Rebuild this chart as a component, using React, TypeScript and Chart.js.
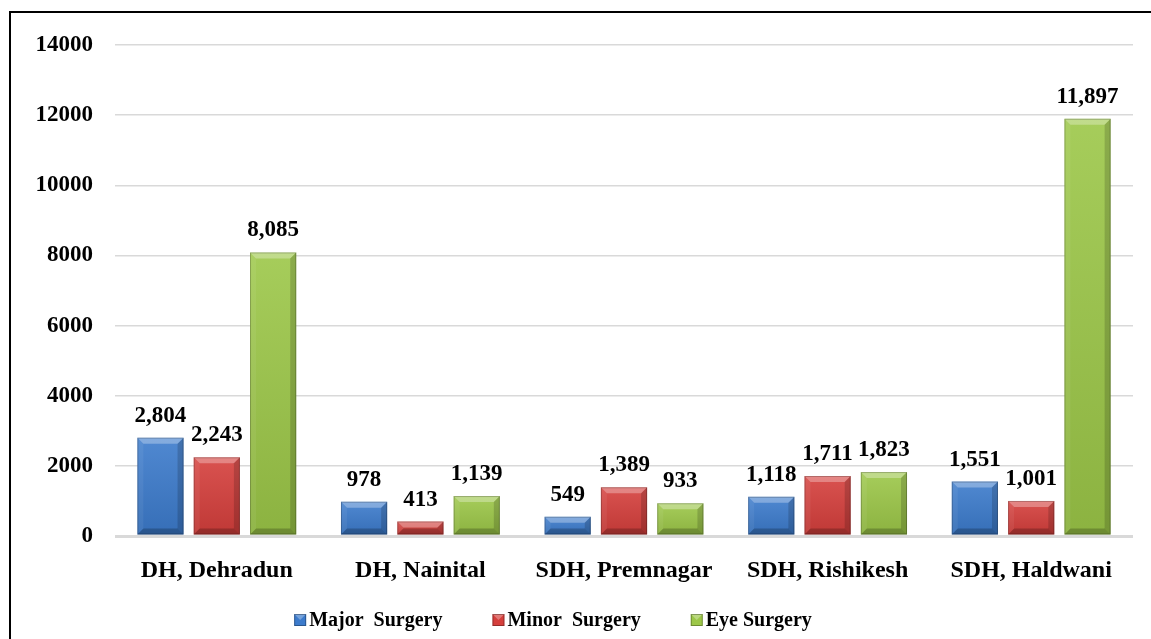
import React, { useEffect, useRef } from "react";
import { Chart, registerables } from "chart.js";

Chart.register(...registerables);

const categories = ["DH, Dehradun", "DH, Nainital", "SDH, Premnagar", "SDH, Rishikesh", "SDH, Haldwani"];
const majorSurgery = [2804, 978, 549, 1118, 1551];
const minorSurgery = [2243, 413, 1389, 1711, 1001];
const eyeSurgery = [8085, 1139, 933, 1823, 11897];
const seriesNames = ["Major  Surgery", "Minor  Surgery", "Eye Surgery"];
const yMin = 0;
const yMax = 14000;
const yStep = 2000;

const seriesColors = ["#3c7bcc", "#d53f3c", "#9cc748"];
const FONT = "'Liberation Serif', 'Times New Roman', serif";

const bevelPlugin = {
  id: "bevelBars",
  afterDatasetsDraw(chart: any) {
    const ctx = chart.ctx;
    chart.data.datasets.forEach((ds: any, di: number) => {
      const meta = chart.getDatasetMeta(di);
      meta.data.forEach((el: any) => {
        const { x, y, base, width } = el.getProps(["x", "y", "base", "width"], true);
        const l = x - width / 2;
        const r = x + width / 2;
        const t = Math.min(y, base);
        const bt = Math.max(y, base);
        const h = bt - t;
        const b = Math.min(6, h / 2, width / 2);
        ctx.save();
        const g = ctx.createLinearGradient(0, t, 0, bt);
        g.addColorStop(0, "rgba(255,255,255,0.10)");
        g.addColorStop(1, "rgba(0,0,0,0.10)");
        ctx.fillStyle = g;
        ctx.fillRect(l, t, width, h);
        // top bevel
        ctx.fillStyle = "rgba(255,255,255,0.30)";
        ctx.beginPath();
        ctx.moveTo(l, t); ctx.lineTo(r, t); ctx.lineTo(r - b, t + b); ctx.lineTo(l + b, t + b); ctx.closePath();
        ctx.fill();
        // left bevel
        ctx.fillStyle = "rgba(255,255,255,0.06)";
        ctx.beginPath();
        ctx.moveTo(l, t); ctx.lineTo(l + b, t + b); ctx.lineTo(l + b, bt - b); ctx.lineTo(l, bt); ctx.closePath();
        ctx.fill();
        // right bevel
        ctx.fillStyle = "rgba(0,0,0,0.16)";
        ctx.beginPath();
        ctx.moveTo(r, t); ctx.lineTo(r - b, t + b); ctx.lineTo(r - b, bt - b); ctx.lineTo(r, bt); ctx.closePath();
        ctx.fill();
        // bottom bevel
        ctx.fillStyle = "rgba(0,0,0,0.22)";
        ctx.beginPath();
        ctx.moveTo(l, bt); ctx.lineTo(l + b, bt - b); ctx.lineTo(r - b, bt - b); ctx.lineTo(r, bt); ctx.closePath();
        ctx.fill();
        ctx.strokeStyle = "rgba(0,0,0,0.22)";
        ctx.lineWidth = 1;
        ctx.strokeRect(l + 0.5, t + 0.5, width - 1, h - 1);
        ctx.restore();
      });
    });
    // data labels
    ctx.save();
    ctx.font = `bold 23px ${FONT}`;
    ctx.fillStyle = "#000";
    ctx.textAlign = "center";
    ctx.textBaseline = "alphabetic";
    chart.data.datasets.forEach((ds: any, di: number) => {
      const meta = chart.getDatasetMeta(di);
      meta.data.forEach((el: any, i: number) => {
        const { x, y } = el.getProps(["x", "y"], true);
        const v = ds.data[i] as number;
        ctx.fillText(v.toLocaleString("en-US"), x, y - 16);
      });
    });
    ctx.restore();
  },
};

const legendPlugin = {
  id: "customLegend",
  afterDraw(chart: any) {
    const ctx = chart.ctx;
    ctx.save();
    ctx.font = `bold 20px ${FONT}`;
    ctx.textBaseline = "middle";
    ctx.textAlign = "left";
    const box = 12;
    const gapText = 3;
    const gapItem = 50;
    const widths = chart.data.datasets.map((ds: any) => box + gapText + ctx.measureText(ds.label).width);
    const total = widths.reduce((a: number, b: number) => a + b, 0) + gapItem * (widths.length - 1);
    let x = 553 - total / 2;
    const yc = 620;
    chart.data.datasets.forEach((ds: any, i: number) => {
      ctx.fillStyle = seriesColors[i];
      ctx.fillRect(x, yc - box / 2, box, box);
      ctx.fillStyle = "rgba(255,255,255,0.3)";
      ctx.beginPath();
      ctx.moveTo(x, yc - box / 2); ctx.lineTo(x + box, yc - box / 2); ctx.lineTo(x + box / 2, yc); ctx.closePath();
      ctx.fill();
      ctx.strokeStyle = "rgba(0,0,0,0.3)";
      ctx.lineWidth = 1;
      ctx.strokeRect(x + 0.5, yc - box / 2 + 0.5, box - 1, box - 1);
      ctx.fillStyle = "#000";
      ctx.fillText(ds.label, x + box + gapText, yc + 1);
      x += widths[i] + gapItem;
    });
    ctx.restore();
  },
};

export default function App() {
  const ref = useRef<HTMLCanvasElement | null>(null);
  useEffect(() => {
    if (!ref.current) return;
    const chart = new Chart(ref.current, {
      type: "bar",
      data: {
        labels: categories,
        datasets: [
          { label: seriesNames[0], data: majorSurgery, backgroundColor: seriesColors[0] },
          { label: seriesNames[1], data: minorSurgery, backgroundColor: seriesColors[1] },
          { label: seriesNames[2], data: eyeSurgery, backgroundColor: seriesColors[2] },
        ],
      },
      options: {
        responsive: false,
        animation: false,
        devicePixelRatio: 1,
        layout: { padding: { left: 20, right: 18, top: 45, bottom: 53 } },
        datasets: { bar: { categoryPercentage: 0.83, barPercentage: 0.82 } },
        plugins: {
          legend: { display: false },
          tooltip: { enabled: false },
          title: { display: false },
        },
        scales: {
          x: {
            grid: { display: false },
            border: { display: false },
            ticks: { color: "#000", font: { family: FONT, size: 24, weight: "bold" }, padding: 12 },
            afterFit: (s: any) => { s.height = 50; },
          },
          y: {
            min: yMin,
            max: yMax,
            border: { display: false },
            grid: {
              color: "#d9d9d9",
              lineWidth: (c: any) => (c.tick && c.tick.value === 0 ? 3 : 1.5),
              drawTicks: false,
            },
            ticks: {
              stepSize: yStep,
              color: "#000",
              font: { family: FONT, size: 23, weight: "bold" },
              padding: 22,
              callback: (v: any) => String(v),
            },
            afterFit: (s: any) => { s.width = 95; },
          },
        },
      },
      plugins: [bevelPlugin, legendPlugin],
    });
    return () => chart.destroy();
  }, []);
  return (
    <div style={{ position: "fixed", left: 0, top: 0, width: 1151, height: 639, background: "#fff", overflow: "hidden" }}>
      <div style={{ position: "absolute", left: 9, top: 11, right: -20, bottom: -20, borderLeft: "2px solid #000", borderTop: "2px solid #000" }} />
      <canvas ref={ref} width={1151} height={639} style={{ position: "absolute", left: 0, top: 0 }} />
    </div>
  );
}
